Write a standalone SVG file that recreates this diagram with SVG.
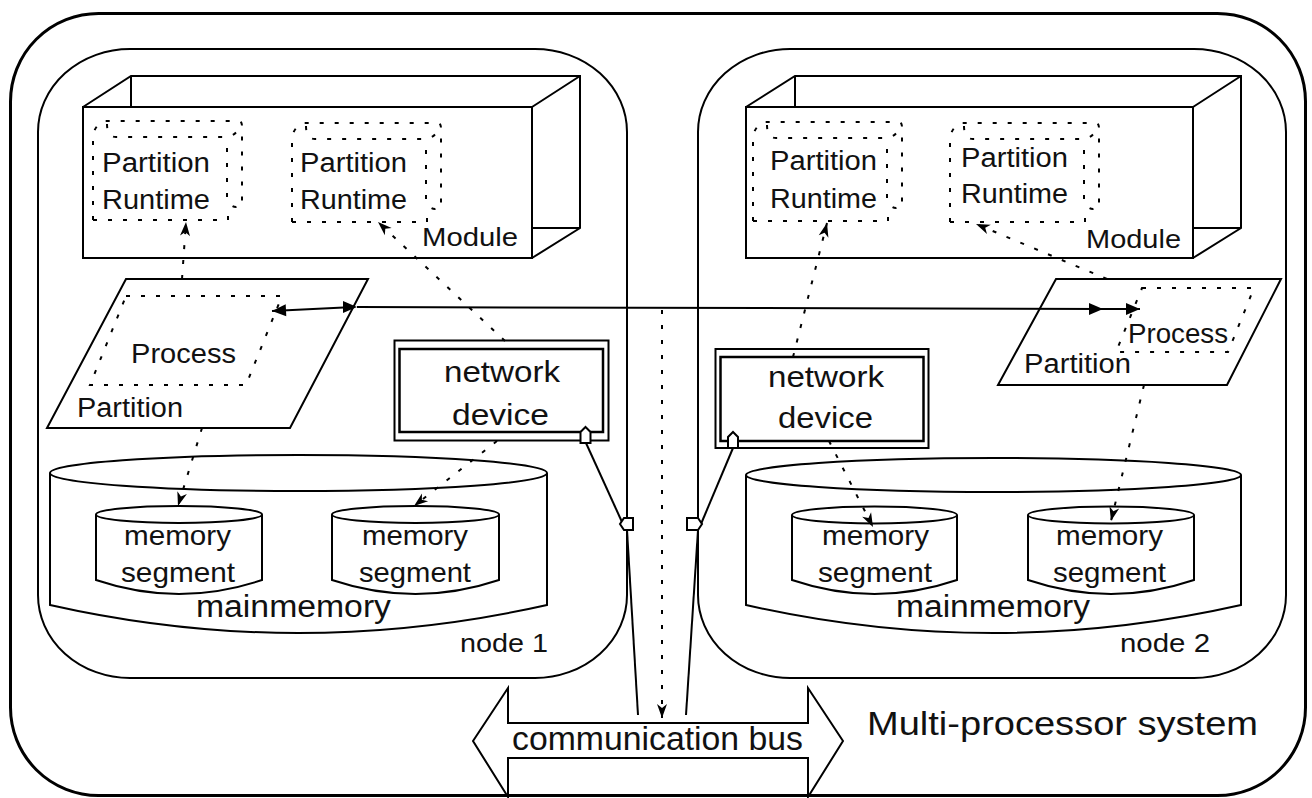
<svg xmlns="http://www.w3.org/2000/svg" xmlns:xlink="http://www.w3.org/1999/xlink" width="1312" height="798" viewBox="0 0 1312 798">
  <style>
    .ln { fill: none; stroke: #000; stroke-width: 2; }
    .wf { fill: #fff; stroke: #000; stroke-width: 2; }
    .dot { fill: none; stroke: #000; stroke-width: 2; stroke-dasharray: 4 11; }
    .t { font-family: "Liberation Sans", Arial, Helvetica, sans-serif; fill: #111; }
  </style>
  <defs>
    <marker id="solidHead" markerUnits="userSpaceOnUse" viewBox="-16 -8 18 16" markerWidth="18" markerHeight="16" refX="0" refY="0" orient="auto">
      <path d="M0,0 L-14,-6 L-14,6 Z" fill="#000"/>
    </marker>
    <marker id="dotHead" markerUnits="userSpaceOnUse" viewBox="-16 -8 18 16" markerWidth="18" markerHeight="16" refX="0" refY="0" orient="auto">
      <path d="M0,0 L-14,-5 L-10,0 L-14,5 Z" fill="#000"/>
    </marker>
    <!-- dotted "partition runtime" tube, origin at its top-left -->
    <g id="prShape" class="dot">
      <path d="M0,99 V15 Q2,3 12,0 H145 Q149,0 149,5 V86"/>
      <path d="M14,3 Q14,16 23,16 H131 Q143,16 147,5"/>
      <path d="M134,27 V77 Q137,86 143,86 Q149,85 149,79"/>
      <path d="M0,99 H135 V93"/>
    </g>
  </defs>

  <rect width="1312" height="798" fill="#fff"/>

  <!-- system frame -->
  <g id="system">
    <rect x="10.5" y="13.5" width="1295" height="782" rx="88" ry="88" fill="none" stroke="#000" stroke-width="3"/>
    <text class="t" x="867" y="735" font-size="34" textLength="391" lengthAdjust="spacingAndGlyphs">Multi-processor system</text>
  </g>

  <!-- node 1 -->
  <g id="node1">
    <rect x="38" y="49" width="589" height="629" rx="92" ry="83" class="ln"/>
    <text class="t" x="460" y="652" font-size="26" textLength="88" lengthAdjust="spacingAndGlyphs">node 1</text>
  </g>

  <!-- node 2 -->
  <g id="node2">
    <rect x="698" y="49" width="588" height="629" rx="92" ry="83" class="ln"/>
    <text class="t" x="1120" y="652" font-size="26" textLength="90" lengthAdjust="spacingAndGlyphs">node 2</text>
  </g>

  <!-- module box, node 1 -->
  <g id="module1">
    <path class="ln" d="M83,107 L131,76 H580 V228 L532,258 M532,107 L580,76 M131,76 V107 M532,228 H580"/>
    <rect x="83" y="107" width="449" height="151" class="ln"/>
    <text class="t" x="422" y="246" font-size="25" textLength="96" lengthAdjust="spacingAndGlyphs">Module</text>
  </g>

  <!-- module box, node 2 -->
  <g id="module2">
    <path class="ln" d="M746,107 L795,76 H1241 V228 L1193,258 M1193,107 L1241,76 M795,76 V107 M1193,228 H1241"/>
    <rect x="746" y="107" width="447" height="151" class="ln"/>
    <text class="t" x="1086" y="248" font-size="25" textLength="95" lengthAdjust="spacingAndGlyphs">Module</text>
  </g>

  <!-- partition runtimes -->
  <g id="runtime1">
    <use xlink:href="#prShape" href="#prShape" x="93" y="121"/>
    <text class="t" x="102" y="172" font-size="27" textLength="108" lengthAdjust="spacingAndGlyphs">Partition</text>
    <text class="t" x="102" y="209" font-size="27" textLength="108" lengthAdjust="spacingAndGlyphs">Runtime</text>
  </g>
  <g id="runtime2">
    <use xlink:href="#prShape" href="#prShape" x="292" y="123"/>
    <text class="t" x="300" y="172" font-size="27" textLength="107" lengthAdjust="spacingAndGlyphs">Partition</text>
    <text class="t" x="300" y="209" font-size="27" textLength="107" lengthAdjust="spacingAndGlyphs">Runtime</text>
  </g>
  <g id="runtime3">
    <use xlink:href="#prShape" href="#prShape" x="753" y="122"/>
    <text class="t" x="770" y="170" font-size="27" textLength="107" lengthAdjust="spacingAndGlyphs">Partition</text>
    <text class="t" x="770" y="208" font-size="27" textLength="107" lengthAdjust="spacingAndGlyphs">Runtime</text>
  </g>
  <g id="runtime4">
    <use xlink:href="#prShape" href="#prShape" x="950" y="123"/>
    <text class="t" x="961" y="167" font-size="27" textLength="107" lengthAdjust="spacingAndGlyphs">Partition</text>
    <text class="t" x="961" y="203" font-size="27" textLength="107" lengthAdjust="spacingAndGlyphs">Runtime</text>
  </g>

  <!-- partitions with their processes -->
  <g id="partition1">
    <polygon class="wf" points="126,279 368,279 290,428 47,428"/>
    <polygon class="dot" points="126,296 282,296 246,385 90,385"/>
    <text class="t" x="131" y="363" font-size="27" textLength="105" lengthAdjust="spacingAndGlyphs">Process</text>
    <text class="t" x="77" y="417" font-size="27" textLength="106" lengthAdjust="spacingAndGlyphs">Partition</text>
  </g>
  <g id="partition2">
    <polygon class="wf" points="1056,279 1281,279 1227,385 998,385"/>
    <polygon class="dot" points="1142,288 1254,288 1228,352 1116,352"/>
    <text class="t" x="1128" y="343" font-size="27" textLength="100" lengthAdjust="spacingAndGlyphs">Process</text>
    <text class="t" x="1024" y="373" font-size="27" textLength="107" lengthAdjust="spacingAndGlyphs">Partition</text>
  </g>

  <!-- network devices -->
  <g id="netdev1">
    <rect x="394.5" y="340.5" width="214" height="100" class="wf"/>
    <rect x="399.5" y="349" width="203.5" height="83" fill="none" stroke="#000" stroke-width="2.5"/>
    <text class="t" x="502" y="382" font-size="29" text-anchor="middle" textLength="116" lengthAdjust="spacingAndGlyphs">network</text>
    <text class="t" x="500.5" y="425" font-size="29" text-anchor="middle" textLength="97" lengthAdjust="spacingAndGlyphs">device</text>
  </g>
  <g id="netdev2">
    <rect x="715.5" y="349" width="213" height="99" class="wf"/>
    <rect x="720.5" y="357" width="203" height="84" fill="none" stroke="#000" stroke-width="2.5"/>
    <text class="t" x="826" y="387" font-size="29" text-anchor="middle" textLength="116" lengthAdjust="spacingAndGlyphs">network</text>
    <text class="t" x="825.5" y="428" font-size="29" text-anchor="middle" textLength="95" lengthAdjust="spacingAndGlyphs">device</text>
  </g>

  <!-- main memories -->
  <g id="mainmemory1">
    <path class="wf" d="M50,473 V605 Q298,661 547,605 V473"/>
    <ellipse cx="298.5" cy="473" rx="248.5" ry="18" class="wf"/>
    <text class="t" x="196" y="617" font-size="31" textLength="195" lengthAdjust="spacingAndGlyphs">mainmemory</text>
  </g>
  <g id="mainmemory2">
    <path class="wf" d="M746,475 V605 Q993,661 1241,605 V475"/>
    <ellipse cx="993.5" cy="475" rx="247.5" ry="17" class="wf"/>
    <text class="t" x="896" y="617" font-size="31" textLength="194" lengthAdjust="spacingAndGlyphs">mainmemory</text>
  </g>

  <!-- memory segments -->
  <g id="segment1">
    <path class="wf" d="M96,514.5 V580 Q179,608 262,580 V514.5"/>
    <ellipse cx="179" cy="514.5" rx="83" ry="8.5" class="wf"/>
    <text class="t" x="124" y="545" font-size="28" textLength="107" lengthAdjust="spacingAndGlyphs">memory</text>
    <text class="t" x="121" y="582" font-size="28" textLength="114" lengthAdjust="spacingAndGlyphs">segment</text>
  </g>
  <g id="segment2">
    <path class="wf" d="M332,514.5 V580 Q415.5,608 499,580 V514.5"/>
    <ellipse cx="415.5" cy="514.5" rx="83.5" ry="8.5" class="wf"/>
    <text class="t" x="362" y="545" font-size="28" textLength="106" lengthAdjust="spacingAndGlyphs">memory</text>
    <text class="t" x="359" y="582" font-size="28" textLength="112" lengthAdjust="spacingAndGlyphs">segment</text>
  </g>
  <g id="segment3">
    <path class="wf" d="M792,515 V580 Q874.5,608 957,580 V515"/>
    <ellipse cx="874.5" cy="515" rx="82.5" ry="8.5" class="wf"/>
    <text class="t" x="822" y="545" font-size="28" textLength="107" lengthAdjust="spacingAndGlyphs">memory</text>
    <text class="t" x="818" y="582" font-size="28" textLength="114" lengthAdjust="spacingAndGlyphs">segment</text>
  </g>
  <g id="segment4">
    <path class="wf" d="M1028,515 V580 Q1111,608 1194,580 V515"/>
    <ellipse cx="1111" cy="515" rx="83" ry="8.5" class="wf"/>
    <text class="t" x="1056" y="545" font-size="28" textLength="107" lengthAdjust="spacingAndGlyphs">memory</text>
    <text class="t" x="1053" y="582" font-size="28" textLength="113" lengthAdjust="spacingAndGlyphs">segment</text>
  </g>

  <!-- communication bus -->
  <g id="bus">
    <polygon class="wf" points="473,741 508,688 508,723 808,723 808,688 843,741 808,797 808,758 508,758 508,797"/>
    <text class="t" x="512" y="750" font-size="33" textLength="291" lengthAdjust="spacingAndGlyphs">communication bus</text>
  </g>

  <!-- connectors -->
  <g id="connectors">
    <!-- dotted dependencies -->
    <path class="dot" d="M182,279 L186,222" marker-end="url(#dotHead)"/>
    <path class="dot" d="M505,341 L378,222" marker-end="url(#dotHead)"/>
    <path class="dot" d="M202,428 L178,506" marker-end="url(#dotHead)"/>
    <path class="dot" d="M497,441 L414,506" marker-end="url(#dotHead)"/>
    <path class="dot" d="M1107,279 L976,224" marker-end="url(#dotHead)"/>
    <path class="dot" d="M793,357 L827,223" marker-end="url(#dotHead)"/>
    <path class="dot" d="M829,441 L873,527" marker-end="url(#dotHead)"/>
    <path class="dot" d="M1144,385 L1111,521" marker-end="url(#dotHead)"/>
    <path class="dot" d="M662,310 L662,718" marker-end="url(#dotHead)"/>

    <!-- message path between processes -->
    <path class="ln" d="M354,307 L272,311" marker-end="url(#solidHead)"/>
    <path class="ln" d="M357,307 L1103,309" marker-start="url(#solidHead)" marker-end="url(#solidHead)"/>
    <path class="ln" d="M1103,309 L1140,309" marker-end="url(#solidHead)"/>

    <!-- device links to the bus -->
    <path class="ln" d="M586,443 L622,522"/>
    <path class="ln" d="M627,530 L638,715"/>
    <path class="ln" d="M733,448 L701,524"/>
    <path class="ln" d="M698,530 L686,715"/>

    <!-- ports -->
    <path class="wf" d="M580.5,443 V432 L585.5,427 L590.5,432 V443 Z"/>
    <path class="wf" d="M728,448 V437 L733,432 L738,437 V448 Z"/>
    <path class="wf" d="M633,518 H624 L620,524 L624,530 H633 Z"/>
    <path class="wf" d="M687,518 H698 L702,524 L698,530 H687 Z"/>
  </g>
</svg>
